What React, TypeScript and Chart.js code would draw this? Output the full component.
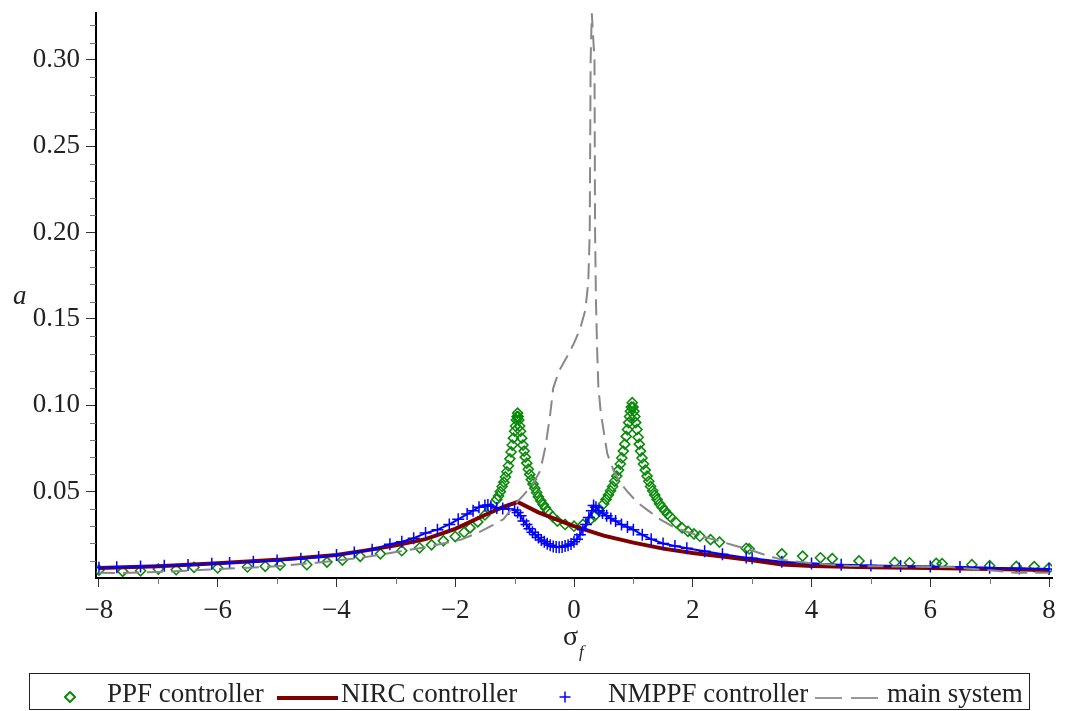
import React, { useEffect, useRef } from "react";
import { Chart, registerables } from "chart.js";

Chart.register(...registerables);

const FONT = "'Liberation Serif', 'Times New Roman', serif";

// ---- axis ticks ----
const xMajorTicks = [-8, -6, -4, -2, 0, 2, 4, 6, 8];
const xMinorTicks = [-7, -5, -3, -1, 1, 3, 5, 7];
const yMajorTicks = [0.05, 0.1, 0.15, 0.2, 0.25, 0.3];
const yMinorTicks = [
  0.01, 0.02, 0.03, 0.04, 0.06, 0.07, 0.08, 0.09, 0.11, 0.12, 0.13, 0.14, 0.16, 0.17, 0.18, 0.19,
  0.21, 0.22, 0.23, 0.24, 0.26, 0.27, 0.28, 0.29, 0.31, 0.32,
];

// ---- PPF controller (green diamonds) ----
const ppfSigma = [
  -8, -7.6, -7.3, -7.0, -6.7, -6.4, -6.0, -5.5, -5.2, -4.95, -4.5, -4.16, -3.9, -3.6, -3.26, -2.9,
  -2.6, -2.4, -2.2, -2.0, -1.85, -1.75, -1.62, -1.5, -1.4,
  -1.3, -1.27, -1.24, -1.21, -1.18, -1.155, -1.13, -1.105, -1.08, -1.06, -1.04, -1.02, -1.0, -0.985,
  -0.97, -0.96, -0.95, -0.94, -0.93, -0.915, -0.9, -0.88, -0.86, -0.84, -0.82, -0.795, -0.77, -0.745,
  -0.72, -0.69, -0.66, -0.63, -0.6, -0.56, -0.52, -0.48, -0.44, -0.36, -0.28, -0.15, 0, 0.15, 0.28,
  0.35, 0.42, 0.5, 0.54, 0.58, 0.615, 0.65, 0.685, 0.72, 0.75, 0.78, 0.805, 0.83, 0.855, 0.88, 0.9,
  0.92, 0.935, 0.95, 0.965, 0.98, 0.995, 1.01, 1.025, 1.04, 1.06, 1.08, 1.1, 1.12, 1.145, 1.17, 1.2,
  1.23, 1.26, 1.29, 1.325, 1.36, 1.4, 1.44, 1.485, 1.53, 1.575, 1.62, 1.72, 1.82, 1.92, 2.02, 2.12,
  2.3, 2.45, 2.9, 2.95, 3.5, 3.85, 4.15, 4.35, 4.8, 5.4, 5.65, 6.1, 6.2, 6.7, 7.0, 7.45, 7.75, 8.0,
];
const ppfAmp = [
  0.0046, 0.0038, 0.0042, 0.0052, 0.0048, 0.0062, 0.0058, 0.0064, 0.0068, 0.0075, 0.0077, 0.0092,
  0.0104, 0.0125, 0.014, 0.0158, 0.0175, 0.0192, 0.0215, 0.024, 0.0265, 0.029, 0.0325, 0.0365, 0.0405,
  0.0455, 0.0475, 0.05, 0.053, 0.0555, 0.0585, 0.0615, 0.065, 0.069, 0.073, 0.077, 0.081, 0.085, 0.088,
  0.0915, 0.0935, 0.0955, 0.0935, 0.0915, 0.088, 0.085, 0.081, 0.077, 0.0735, 0.07, 0.0665, 0.063, 0.06,
  0.057, 0.0545, 0.052, 0.0495, 0.047, 0.0447, 0.0425, 0.0405, 0.0385, 0.0355, 0.033, 0.031, 0.03, 0.031,
  0.034, 0.036, 0.039, 0.043, 0.0455, 0.048, 0.0505, 0.053, 0.056, 0.059, 0.0625, 0.066, 0.0695, 0.0735,
  0.0775, 0.082, 0.086, 0.09, 0.0935, 0.0965, 0.099, 0.1015, 0.099, 0.0965, 0.0935, 0.09, 0.086, 0.0815,
  0.0775, 0.0735, 0.0695, 0.066, 0.0625, 0.059, 0.056, 0.053, 0.0505, 0.048, 0.0455, 0.043, 0.041, 0.039,
  0.037, 0.0355, 0.032, 0.029, 0.027, 0.0255, 0.0242, 0.0222, 0.0208, 0.0172, 0.0168, 0.0139, 0.0127,
  0.0117, 0.0112, 0.0099, 0.009, 0.0088, 0.0085, 0.0083, 0.0077, 0.0071, 0.0067, 0.0066, 0.0058,
];

// ---- NIRC controller (dark red line) ----
const nircSigma = [
  -8, -7, -6, -5, -4, -3.5, -3, -2.5, -2, -1.5, -1.2, -0.95, -0.6, -0.3, 0, 0.5, 1, 1.5, 2, 2.5, 3,
  3.5, 4, 5, 6, 7, 8,
];
const nircAmp = [
  0.0058, 0.0068, 0.0085, 0.0105, 0.0133, 0.016, 0.019, 0.0225, 0.0285, 0.0365, 0.041, 0.044, 0.038,
  0.034, 0.03, 0.0245, 0.0205, 0.017, 0.0145, 0.0125, 0.0103, 0.0078, 0.007, 0.0062, 0.0058, 0.0052,
  0.0046,
];

// ---- NMPPF controller (blue line with + markers) ----
const nmppfSigma = [
  -8, -7.7, -7.3, -6.9, -6.5, -6.1, -5.8, -5.4, -5.0, -4.6, -4.3, -4.0, -3.7, -3.4, -3.1, -2.9, -2.7,
  -2.5, -2.3, -2.1, -1.95, -1.8, -1.7, -1.6, -1.5, -1.45, -1.4, -1.3, -1.2, -1.1, -1.0, -0.95, -0.9,
  -0.85, -0.8, -0.75, -0.7, -0.65, -0.6, -0.55, -0.5, -0.45, -0.4, -0.35, -0.3, -0.25, -0.2, -0.15,
  -0.1, -0.05, 0, 0.05, 0.1, 0.15, 0.2, 0.25, 0.3, 0.33, 0.37, 0.42, 0.48, 0.55, 0.62, 0.7, 0.8, 0.9,
  1.0, 1.15, 1.3, 1.5, 1.7, 1.9, 2.2, 2.5, 2.9, 3.0, 3.5, 4.0, 4.5, 5.0, 5.5, 6.0, 6.5, 7.0, 7.5, 8.0,
];
const nmppfAmp = [
  0.006, 0.0062, 0.0066, 0.0071, 0.0076, 0.0082, 0.0087, 0.0094, 0.0102, 0.0112, 0.0121, 0.0133,
  0.0147, 0.0163, 0.0195, 0.021, 0.023, 0.026, 0.028, 0.031, 0.034, 0.037, 0.039, 0.041, 0.042,
  0.0423, 0.0415, 0.0405, 0.0402, 0.04, 0.0394, 0.038, 0.036, 0.033, 0.031, 0.0285, 0.0265, 0.025,
  0.0235, 0.022, 0.021, 0.0198, 0.019, 0.0183, 0.018, 0.0178, 0.018, 0.0185, 0.019, 0.0197, 0.021,
  0.0225, 0.025, 0.028, 0.031, 0.035, 0.039, 0.042, 0.041, 0.039, 0.0376, 0.036, 0.0345, 0.033,
  0.031, 0.0295, 0.028, 0.025, 0.0225, 0.02, 0.0185, 0.0172, 0.0155, 0.0138, 0.0118, 0.0115, 0.0094,
  0.0084, 0.0077, 0.0073, 0.0069, 0.0066, 0.0063, 0.0059, 0.0055, 0.0052,
];

// ---- main system (gray dashed) ----
const mainSigma = [
  -8, -7.6, -7.0, -6.3, -5.6, -5.0, -4.3, -3.6, -3.0, -2.5, -1.9, -1.6, -1.36, -1.19, -1.05, -0.96,
  -0.85, -0.7, -0.57, -0.48, -0.4, -0.35, -0.25, -0.12, 0.0, 0.1, 0.19, 0.24, 0.265, 0.28, 0.3, 0.345,
  0.355, 0.37, 0.39, 0.41, 0.45, 0.56, 0.67, 0.78, 0.9, 1.06, 1.25, 1.45, 1.65, 1.84, 2.1, 2.41, 2.7,
  2.97, 3.25, 3.52, 4.0, 4.65, 5.5, 6.33, 7.0, 7.43, 8.0,
];
const mainAmp = [
  0.003, 0.0029, 0.0035, 0.0046, 0.0058, 0.0068, 0.009, 0.0116, 0.015, 0.0178, 0.0222, 0.0265,
  0.0307, 0.034, 0.04, 0.044, 0.048, 0.054, 0.062, 0.076, 0.095, 0.11, 0.12, 0.128, 0.136, 0.144,
  0.155, 0.171, 0.2, 0.3, 0.327, 0.3, 0.2, 0.16, 0.132, 0.111, 0.096, 0.072, 0.062, 0.055, 0.05,
  0.044, 0.039, 0.034, 0.03, 0.0275, 0.0245, 0.0218, 0.0188, 0.0162, 0.013, 0.0104, 0.0085, 0.007,
  0.0066, 0.0063, 0.0045, 0.003, 0.003,
];

const toPoints = (xs: number[], ys: number[]) => xs.map((x, i) => ({ x, y: ys[i] }));

const minorTickPlugin = {
  id: "minorTicks",
  afterDraw(chart: any) {
    const { ctx, chartArea, scales } = chart;
    ctx.save();
    ctx.strokeStyle = "#777";
    ctx.lineWidth = 1;
    for (const v of xMinorTicks) {
      const px = Math.round(scales.x.getPixelForValue(v)) + 0.5;
      ctx.beginPath();
      ctx.moveTo(px, chartArea.bottom);
      ctx.lineTo(px, chartArea.bottom + 6);
      ctx.stroke();
    }
    for (const v of yMinorTicks) {
      const py = Math.round(scales.y.getPixelForValue(v)) + 0.5;
      ctx.beginPath();
      ctx.moveTo(chartArea.left - 6, py);
      ctx.lineTo(chartArea.left, py);
      ctx.stroke();
    }
    ctx.restore();
  },
};

const legendText: React.CSSProperties = {
  position: "absolute",
  fontFamily: FONT,
  fontSize: 27,
  lineHeight: "27px",
  top: 680,
  color: "#222",
  whiteSpace: "nowrap",
};

export default function App() {
  const canvasRef = useRef<HTMLCanvasElement | null>(null);

  useEffect(() => {
    if (!canvasRef.current) return;
    const chart = new Chart(canvasRef.current, {
      type: "scatter",
      data: {
        datasets: [
          {
            label: "PPF controller",
            data: toPoints(ppfSigma, ppfAmp),
            showLine: false,
            pointStyle: "rectRot",
            pointRadius: 5,
            pointBorderWidth: 1.6,
            borderColor: "#0a8a0a",
            backgroundColor: "rgba(0,0,0,0)",
            order: 4,
          },
          {
            label: "NIRC controller",
            data: toPoints(nircSigma, nircAmp),
            showLine: true,
            borderColor: "#7f0000",
            borderWidth: 4,
            pointRadius: 0,
            order: 3,
          },
          {
            label: "NMPPF controller",
            data: toPoints(nmppfSigma, nmppfAmp),
            showLine: true,
            borderColor: "#0000ff",
            borderWidth: 2,
            pointStyle: "cross",
            pointRadius: 6,
            pointBorderWidth: 1.5,
            pointBorderColor: "#0000ff",
            backgroundColor: "#0000ff",
            order: 2,
          },
          {
            label: "main system",
            data: toPoints(mainSigma, mainAmp),
            showLine: true,
            borderColor: "#888888",
            borderWidth: 2,
            borderDash: [16, 8],
            pointRadius: 0,
            order: 1,
          },
        ],
      },
      options: {
        responsive: false,
        animation: false,
        devicePixelRatio: 1,
        layout: { padding: { left: 0, right: 15, top: 13, bottom: 0 } },
        plugins: { legend: { display: false }, tooltip: { enabled: false } },
        scales: {
          x: {
            type: "linear",
            min: -8.05,
            max: 8.05,
            afterBuildTicks: (s: any) => {
              s.ticks = xMajorTicks.map((v) => ({ value: v }));
            },
            afterFit: (s: any) => {
              s.height = 133;
              s.paddingLeft = 0;
              s.paddingRight = 0;
            },
            grid: { display: true, drawOnChartArea: false, drawTicks: true, tickLength: 9, tickColor: "#333" },
            border: { display: true, color: "#000", width: 2 },
            ticks: {
              autoSkip: false,
              maxRotation: 0,
              padding: 8,
              color: "#222",
              font: { family: FONT, size: 27 },
              callback: (v: any) => (Number(v) < 0 ? "\u2212" + Math.abs(Number(v)) : String(v)),
            },
          },
          y: {
            type: "linear",
            min: 0,
            max: 0.3272,
            afterBuildTicks: (s: any) => {
              s.ticks = yMajorTicks.map((v) => ({ value: v }));
            },
            afterFit: (s: any) => {
              s.width = 96;
              s.paddingTop = 0;
              s.paddingBottom = 0;
            },
            grid: { display: true, drawOnChartArea: false, drawTicks: true, tickLength: 10, tickColor: "#333" },
            border: { display: true, color: "#000", width: 2 },
            ticks: {
              autoSkip: false,
              padding: 6,
              color: "#222",
              font: { family: FONT, size: 27 },
              callback: (v: any) => Number(v).toFixed(2),
            },
          },
        },
      },
      plugins: [minorTickPlugin],
    });
    return () => chart.destroy();
  }, []);

  return (
    <div style={{ position: "absolute", left: 0, top: 0, width: 1067, height: 711, background: "#fff", overflow: "hidden" }}>
      <canvas ref={canvasRef} width={1067} height={711} style={{ position: "absolute", left: 0, top: 0, width: 1067, height: 711 }} />
      {/* y axis title */}
      <div style={{ position: "absolute", left: 13, top: 282, fontFamily: FONT, fontStyle: "italic", fontSize: 27, lineHeight: "27px", color: "#222" }}>a</div>
      {/* x axis title */}
      <div style={{ position: "absolute", left: 563, top: 622, fontFamily: FONT, fontSize: 28, lineHeight: "28px", color: "#222" }}>σ</div>
      <div style={{ position: "absolute", left: 579, top: 643, fontFamily: FONT, fontStyle: "italic", fontSize: 17, lineHeight: "17px", color: "#222" }}>f</div>
      {/* legend */}
      <div style={{ position: "absolute", left: 29, top: 673, width: 1001, height: 37, boxSizing: "border-box", border: "1.5px solid #222" }} />
      <svg style={{ position: "absolute", left: 64, top: 691 }} width={12} height={12}>
        <polygon points="6,1 11,6 6,11 1,6" fill="none" stroke="#0a8a0a" strokeWidth={2} />
      </svg>
      <div style={{ ...legendText, left: 107 }}>PPF controller</div>
      <div style={{ position: "absolute", left: 277, top: 696, width: 61, height: 4, background: "#7f0000" }} />
      <div style={{ ...legendText, left: 341 }}>NIRC controller</div>
      <svg style={{ position: "absolute", left: 559, top: 691 }} width={12} height={12}>
        <line x1={6} y1={0.5} x2={6} y2={11.5} stroke="#0000ff" strokeWidth={1.5} />
        <line x1={0.5} y1={6} x2={11.5} y2={6} stroke="#0000ff" strokeWidth={1.5} />
      </svg>
      <div style={{ ...legendText, left: 608 }}>NMPPF controller</div>
      <div style={{ position: "absolute", left: 815, top: 697, width: 27, height: 2, background: "#999" }} />
      <div style={{ position: "absolute", left: 851, top: 697, width: 27, height: 2, background: "#999" }} />
      <div style={{ ...legendText, left: 887 }}>main system</div>
    </div>
  );
}
